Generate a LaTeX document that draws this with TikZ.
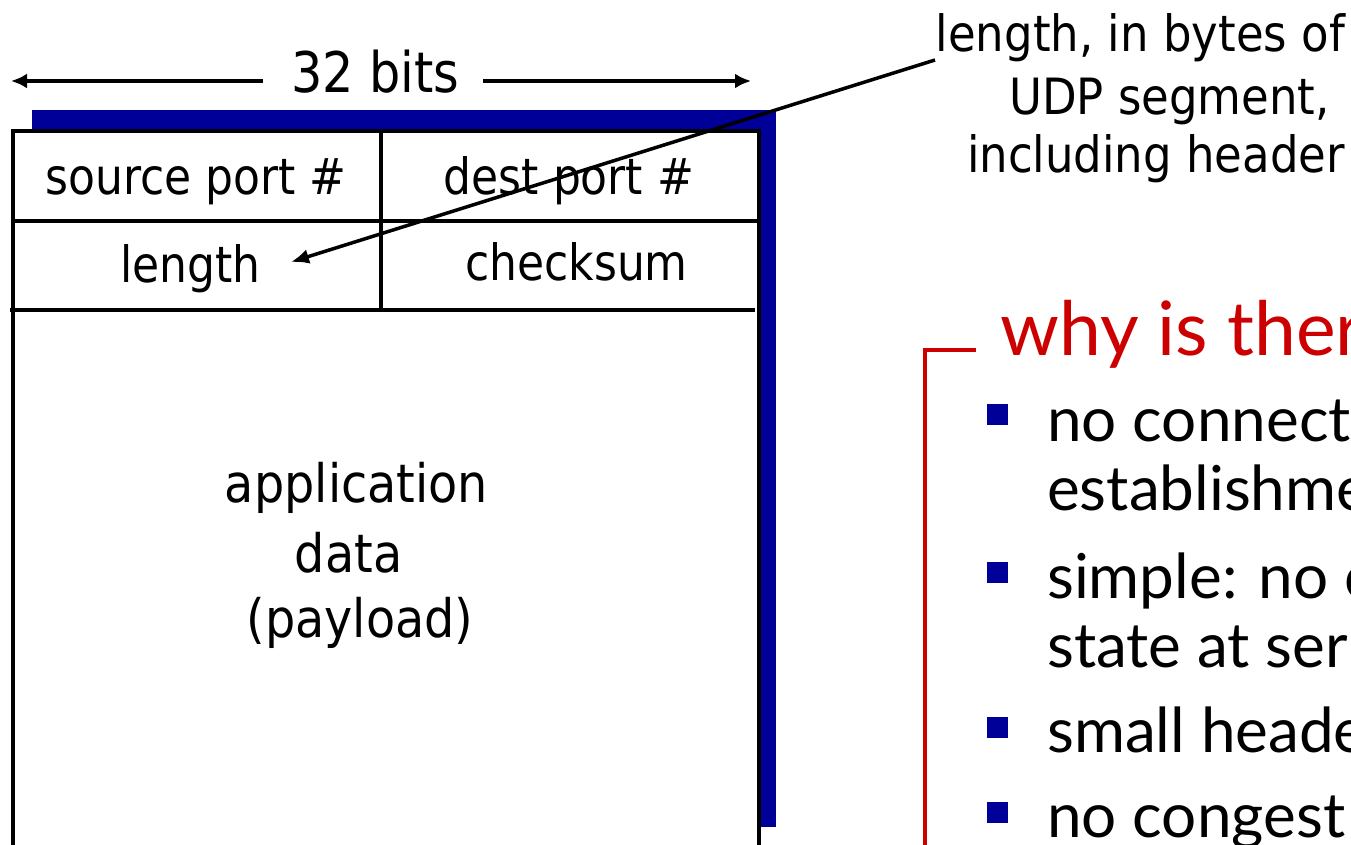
\documentclass[tikz,border=0pt]{standalone}
\usepackage{fontspec}
\usepackage{graphicx}
\setmainfont{DejaVu Sans}
\newfontfamily\gillfont{Lato}
\usetikzlibrary{arrows.meta}
\definecolor{udpblue}{RGB}{0,0,153}
\definecolor{udpred}{RGB}{204,0,0}
\newcommand\squeeze[1]{\scalebox{0.88}[1]{#1}}
\begin{document}
\begin{tikzpicture}[x=1pt,y=-1pt,
  cell/.style={anchor=base, inner sep=0pt, font=\fontsize{50}{60}\selectfont},
  payload/.style={anchor=base, inner sep=0pt, font=\fontsize{53}{60}\selectfont},
  ann/.style={anchor=base east, inner sep=0pt, font=\fontsize{50}{60}\selectfont},
  bullettext/.style={anchor=base west, inner sep=0pt, font=\gillfont\fontsize{62}{70}\selectfont},
  bulletbox/.style={fill=udpblue, inner sep=0pt, minimum size=21pt, anchor=north west},
  conn/.style={line width=3.5pt, -{Latex[length=16pt,width=15pt]}},
  frame/.style={line width=4pt, black}]
\useasboundingbox (0,0) rectangle (1351,845);
\clip (0,0) rectangle (1351,845);
\fill[white] (0,0) rectangle (1351,845);
% shadow and segment box
\fill[udpblue] (32,110) rectangle (776,827);
\filldraw[frame, fill=white] (13,131) rectangle (759,900);
\draw[frame] (13,221) -- (759,221);
\draw[frame] (10,310) -- (755,310);
\draw[frame] (381,131) -- (381,310);
% cell texts
\node[cell] (src) at (196,195) {\squeeze{source port \#}};
\node[cell] (dst) at (569,195) {\squeeze{dest port \#}};
\node[cell] (len) at (190.5,282) {\squeeze{length}};
\node[cell] (chk) at (576.5,280) {\squeeze{checksum}};
\node[payload] (app1) at (356.5,502) {\scalebox{0.9}[1]{application}};
\node[payload] (app2) at (348.5,572) {\scalebox{0.9}[1]{data}};
\node[payload] (app3) at (360,637) {\scalebox{0.9}[1]{(payload)}};
% 32 bits
\node[cell, font=\fontsize{56}{60}\selectfont] (bits) at (375.5,93) {\squeeze{32 bits}};
\coordinate (bitsL) at (11,81);
\coordinate (bitsR) at (751,81);
\coordinate (bitsLs) at (263,81);
\coordinate (bitsRs) at (483,81);
\draw[conn] (bitsLs) -- (bitsL);
\draw[conn] (bitsRs) -- (bitsR);
% annotation
\node[ann] (ann1) at (1345,52) {\scalebox{0.9}[1]{length, in bytes of}};
\node[ann] (ann2) at (1330,115) {\scalebox{0.9}[1]{UDP segment,}};
\node[ann] (ann3) at (1345,173) {\scalebox{0.9}[1]{including header}};
\coordinate (annstart) at (935,60);
\coordinate (lentip) at (291,262);
\draw[line width=3.5pt, -{Latex[length=18pt,width=15pt]}] (annstart) -- (lentip);
% why UDP
\draw[udpred, line width=3.5pt] (976,350) -- (925,350) -- (925,900);
\node[bullettext, text=udpred, font=\gillfont\fontsize{75}{80}\selectfont] (why) at (1000,355) {why is ther};
\node[bulletbox] (b1) at (987,404) {};
\node[bulletbox] (b2) at (987,562) {};
\node[bulletbox] (b3) at (987,717) {};
\node[bulletbox] (b4) at (987,802) {};
\node[bullettext] (t1a) at (1047,441) {no connect};
\node[bullettext] (t1b) at (1047,510) {establishme};
\node[bullettext] (t2a) at (1047,598) {simple: no c};
\node[bullettext] (t2b) at (1047,667) {state at ser};
\node[bullettext] (t3) at (1047,752) {small heade};
\node[bullettext] (t4) at (1047,837) {no congest};
\end{tikzpicture}
\end{document}
